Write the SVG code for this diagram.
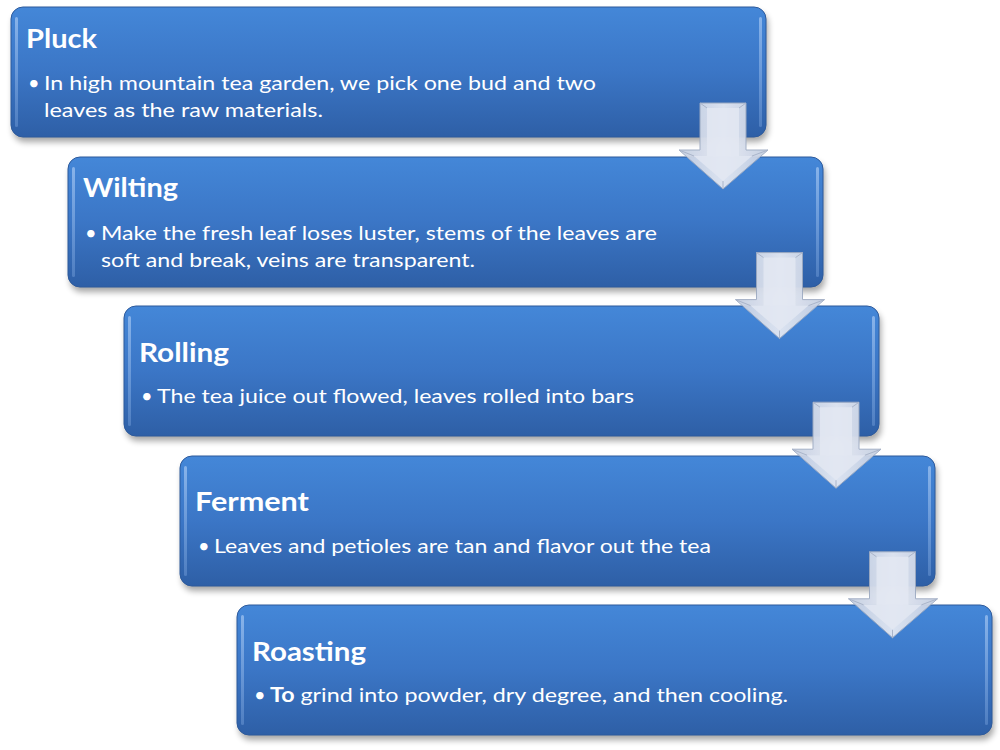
<svg xmlns="http://www.w3.org/2000/svg" width="1000" height="750" viewBox="0 0 1000 750">
<defs>
<linearGradient id="boxg" x1="0" y1="0" x2="0" y2="1">
<stop offset="0" stop-color="#4487d8"/>
<stop offset="0.5" stop-color="#3b76c6"/>
<stop offset="1" stop-color="#2e5fa6"/>
</linearGradient>
<linearGradient id="edgeg" x1="0" y1="0" x2="0" y2="1">
<stop offset="0" stop-color="#8fb8ec" stop-opacity="0.9"/>
<stop offset="1" stop-color="#6f9ad6" stop-opacity="0.5"/>
</linearGradient>
<linearGradient id="arrg" x1="0" y1="0" x2="1" y2="0">
<stop offset="0" stop-color="#c3cde0"/>
<stop offset="0.5" stop-color="#e4e9f3"/>
<stop offset="1" stop-color="#c3cde0"/>
</linearGradient>
<filter id="sh" x="-5%" y="-10%" width="110%" height="130%">
<feGaussianBlur stdDeviation="3"/>
</filter>
<g id="box">
<rect x="2" y="5" width="755" height="130" rx="12" fill="#000" opacity="0.35" filter="url(#sh)"/>
<rect x="0" y="0" width="755" height="130" rx="12" fill="url(#boxg)" stroke="#2d5a9c" stroke-width="1"/>
<rect x="4" y="10" width="3" height="110" rx="1.5" fill="url(#edgeg)"/>
<rect x="748" y="10" width="3" height="110" rx="1.5" fill="url(#edgeg)"/>
</g>
<g id="arrow">
<path d="M700,103 H746 V150 H768 L723,189 L679,150 H700 Z" fill="url(#arrg)" stroke="#9eabc2" stroke-width="1" opacity="0.95"/>
<path d="M707,108 H739 V156 H752 L723,181 L694,156 H707 Z" fill="#e3e8f2" opacity="0.85"/>
<path d="M700,103 L707,108 M746,103 L739,108 M768,150 L752,156 M723,189 L723,181 M679,150 L694,156" stroke="#aab5ca" stroke-width="1" fill="none"/>
</g>
</defs>
<style>
.t{font-family:"Lato","Liberation Sans",sans-serif;font-weight:bold;font-size:27px;fill:#fff}
.b{font-family:"Lato","Liberation Sans",sans-serif;font-size:20px;fill:#fff}
.bb{font-weight:bold}
</style>
<rect width="1000" height="750" fill="#fff"/>
<g id="node1" transform="translate(11,7)"><use href="#box"/></g>
<g id="node2" transform="translate(68,157)"><use href="#box"/></g>
<g id="node3" transform="translate(124,306)"><use href="#box"/></g>
<g id="node4" transform="translate(180,456)"><use href="#box"/></g>
<g id="node5" transform="translate(237,605)"><use href="#box"/></g>

<g id="labels">
<text class="t" x="26" y="48" textLength="71" lengthAdjust="spacingAndGlyphs">Pluck</text>
<text class="b" x="28" y="90">•</text>
<text class="b" x="44" y="90" textLength="552" lengthAdjust="spacingAndGlyphs">In high mountain tea garden, we pick one bud and two</text>
<text class="b" x="44" y="117" textLength="279" lengthAdjust="spacingAndGlyphs">leaves as the raw materials.</text>

<text class="t" x="83" y="197" textLength="95" lengthAdjust="spacingAndGlyphs">Wilting</text>
<text class="b" x="85" y="240">•</text>
<text class="b" x="101" y="240" textLength="556" lengthAdjust="spacingAndGlyphs">Make the fresh leaf loses luster, stems of the leaves are</text>
<text class="b" x="101" y="267" textLength="374" lengthAdjust="spacingAndGlyphs">soft and break, veins are transparent.</text>

<text class="t" x="139" y="362" textLength="90" lengthAdjust="spacingAndGlyphs">Rolling</text>
<text class="b" x="141" y="403">•</text>
<text class="b" x="157" y="403" textLength="477" lengthAdjust="spacingAndGlyphs">The tea juice out flowed, leaves rolled into bars</text>

<text class="t" x="195" y="511" textLength="114" lengthAdjust="spacingAndGlyphs">Ferment</text>
<text class="b" x="198" y="553">•</text>
<text class="b" x="214" y="553" textLength="497" lengthAdjust="spacingAndGlyphs">Leaves and petioles are tan and flavor out the tea</text>

<text class="t" x="252" y="661" textLength="114" lengthAdjust="spacingAndGlyphs">Roasting</text>
<text class="b" x="254" y="702">•</text>
<text class="b" x="270" y="702" textLength="518" lengthAdjust="spacingAndGlyphs"><tspan class="bb">To</tspan> grind into powder, dry degree, and then cooling.</text>
</g>

<g id="connectors">
<use href="#arrow"/>
<use href="#arrow" transform="translate(56.5,149.6)"/>
<use href="#arrow" transform="translate(113,299.2)"/>
<use href="#arrow" transform="translate(169.5,448.8)"/>
</g>
</svg>
